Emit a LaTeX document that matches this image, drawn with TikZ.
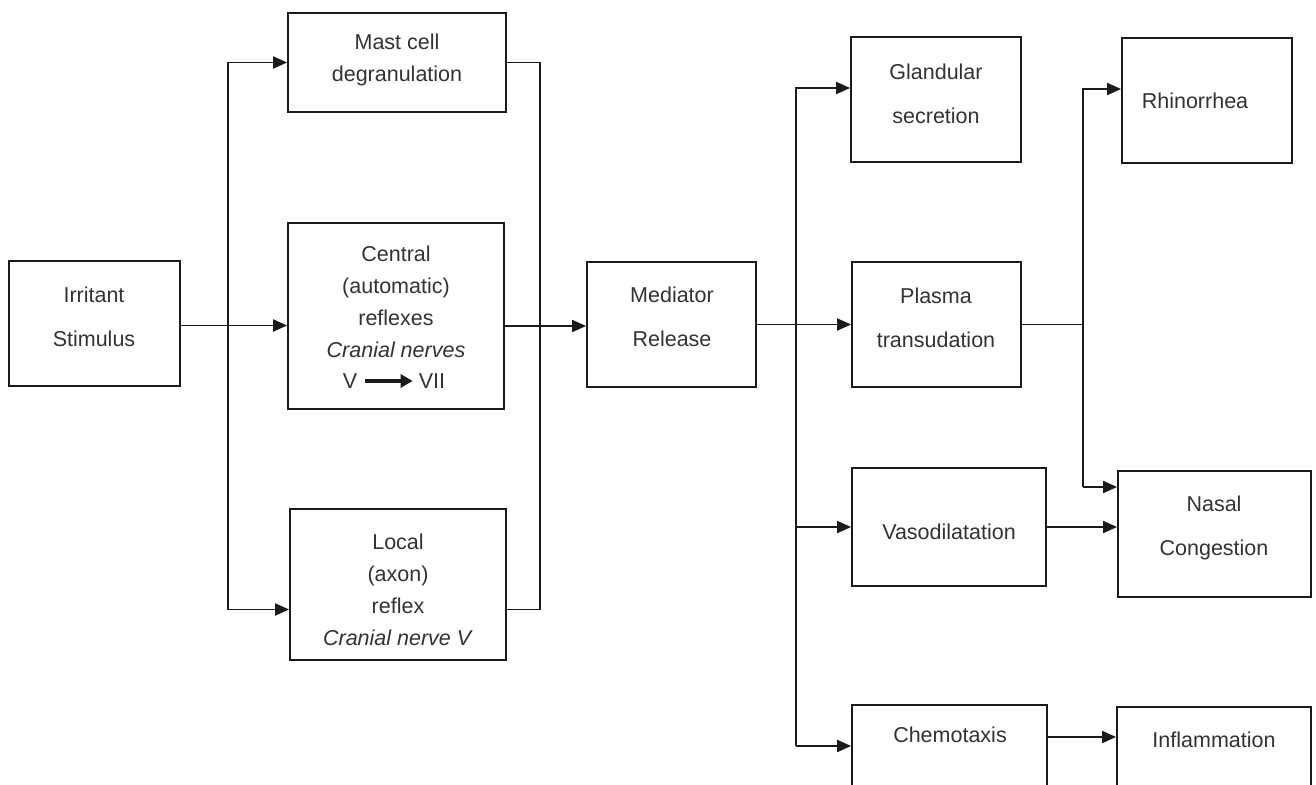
\documentclass[tikz,border=0pt]{standalone}
\usepackage{fontspec}
\setmainfont{Liberation Sans}
\usetikzlibrary{arrows.meta,calc}
\definecolor{textgray}{HTML}{333333}
\definecolor{linec}{HTML}{1A1A1A}
\begin{document}
\begin{tikzpicture}[x=1pt,y=-1pt,
  box/.style={draw=linec,line width=1.8pt,inner sep=0pt,rectangle},
  txt/.style={align=center,text=textgray,inner sep=0pt,font=\fontsize{21.5}{32}\selectfont},
  wide/.style={font=\fontsize{21.5}{44}\selectfont},
  conn/.style={draw=linec,line width=1.9pt},
  arr/.style={conn,-{Triangle[length=14pt,width=12pt]}},
  smallarr/.style={draw=linec,line width=3.4pt,-{Triangle[length=12pt,width=13pt]}}]
\useasboundingbox (0,0) rectangle (1316,784);
\clip (0,0) rectangle (1316,784);
\fill[white] (0,0) rectangle (1316,784);
% boxes
\node[box,minimum width=171pt,minimum height=125pt] (irr) at (94.5,323.5) {};
\node[box,minimum width=218pt,minimum height=99pt] (mast) at (397,62.5) {};
\node[box,minimum width=216pt,minimum height=186pt] (central) at (396,316) {};
\node[box,minimum width=216pt,minimum height=151pt] (local) at (398,584.5) {};
\node[box,minimum width=169pt,minimum height=125pt] (med) at (671.5,324.5) {};
\node[box,minimum width=170pt,minimum height=125pt] (gland) at (936,99.5) {};
\node[box,minimum width=169pt,minimum height=125pt] (plasma) at (936.5,324.5) {};
\node[box,minimum width=194pt,minimum height=118pt] (vaso) at (949,527) {};
\node[box,minimum width=195pt,minimum height=95pt] (chemo) at (949.5,752.5) {};
\node[box,minimum width=170pt,minimum height=125pt] (rhino) at (1207,100.5) {};
\node[box,minimum width=193pt,minimum height=126pt] (nasal) at (1214.5,534) {};
\node[box,minimum width=194pt,minimum height=93pt] (inflam) at (1214,753.5) {};
% texts
\node[txt,wide] (irrT) at (94,317) {Irritant\\Stimulus};
\node[txt] (mastT) at (397,60) {Mast cell\\degranulation};
\node[txt] (centralT) at (396,302) {Central\\(automatic)\\reflexes\\\textit{Cranial nerves}};
\node[txt] (vT) at (350,381) {V};
\node[txt] (viiT) at (432,381) {VII};
\node[txt] (localT) at (398,590) {Local\\(axon)\\reflex\\\textit{Cranial nerve V}};
\node[txt,wide] (medT) at (672,317) {Mediator\\Release};
\node[txt,wide] (glandT) at (936,94) {Glandular\\secretion};
\node[txt,wide] (plasmaT) at (936,318) {Plasma\\transudation};
\node[txt] (vasoT) at (949,532) {Vasodilatation};
\node[txt] (chemoT) at (950,735) {Chemotaxis};
\node[txt] (rhinoT) at (1195,101) {Rhinorrhea};
\node[txt,wide] (nasalT) at (1214,528) {Nasal\\Congestion};
\node[txt] (inflamT) at (1214,740) {Inflammation};
% V -> VII arrow
\draw[smallarr] ([xshift=8pt]vT.east) -- ([xshift=-6pt]viiT.west);
% bus coordinates
\coordinate (bl) at (228,0);
\coordinate (br) at (540,0);
\coordinate (bm) at (796,0);
\coordinate (bq) at (1083,0);
\coordinate (irrout) at ([yshift=-2pt]irr.east);
\coordinate (cenout) at ([yshift=-10pt]central.east);
\coordinate (lin) at ([yshift=-25pt]local.west);
\coordinate (lout) at ([yshift=-25pt]local.east);
\coordinate (gin) at ([yshift=11.5pt]gland.west);
\coordinate (cin) at ([yshift=6.5pt]chemo.west);
\coordinate (rin) at ([yshift=11.5pt]rhino.west);
\coordinate (nin) at ([yshift=47pt]nasal.west);
\coordinate (chout) at ([yshift=15.5pt]chemo.east);
% left section
\draw[arr] (irrout) -- (irrout -| central.west);
\draw[arr] (lin -| bl) |- (mast.west);
\draw[arr] (lin -| bl) -- (lin);
\draw[conn] (mast.east) -| (lout -| br) -- (lout);
\draw[arr] (cenout) -- (cenout -| med.west);
% middle section
\draw[arr] (med.east) -- (plasma.west);
\draw[arr] (cin -| bm) |- (gin);
\draw[arr] (cin -| bm) -- (cin);
\draw[arr] (vaso.west -| bm) -- (vaso.west);
% right section
\draw[conn] (plasma.east) -- (plasma.east -| bq);
\draw[arr] (nin -| bq) |- (rin);
\draw[arr] (nin -| bq) -- (nin);
\draw[arr] (vaso.east) -- (vaso.east -| nasal.west);
\draw[arr] (chout) -- (chout -| inflam.west);
\end{tikzpicture}
\end{document}
